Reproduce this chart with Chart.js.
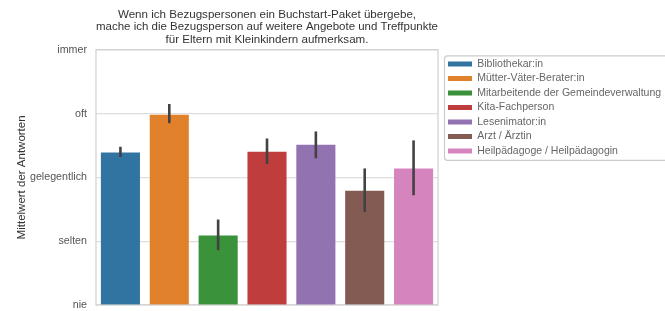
<!DOCTYPE html>
<html>
<head>
<meta charset="utf-8">
<script src="https://cdn.jsdelivr.net/npm/chart.js@4/dist/chart.umd.min.js"></script>
<style>
  body { margin: 0; background: #fff; }
  #wrap { width: 665px; height: 311px; }
</style>
</head>
<body>
<div id="wrap"><canvas id="chart" width="665" height="311"></canvas></div>
<script>
var kategorien = ['Bibliothekar:in', 'Mütter-Väter-Berater:in', 'Mitarbeitende der Gemeindeverwaltung',
    'Kita-Fachperson', 'Lesenimator:in', 'Arzt / Ärztin', 'Heilpädagoge / Heilpädagogin'];
var mittelwerte = [3.39, 3.98, 2.09, 3.40, 3.51, 2.79, 3.14];
var fehlerUnten = [3.32, 3.85, 1.86, 3.21, 3.30, 2.46, 2.72];
var fehlerOben = [3.48, 4.15, 2.34, 3.61, 3.72, 3.14, 3.58];
var antwortLabels = ['nie', 'selten', 'gelegentlich', 'oft', 'immer'];
var farben = ['#3274a1', '#e1812c', '#3a923a', '#c03d3e', '#9372b2', '#845b53', '#d684bd'];

var schrift = "'Liberation Sans', Arial, sans-serif";

// fehlerbalken ueber die skalen zeichnen
var fehlerPlugin = {
    id: 'fehler',
    afterDatasetsDraw: function (chart) {
        var ctx = chart.ctx;
        var xs = chart.scales.x, ys = chart.scales.y;
        ctx.save();
        ctx.strokeStyle = '#424242';
        ctx.lineWidth = 2.6;
        for (var i = 0; i < kategorien.length; i++) {
            var x = xs.getPixelForValue(i);
            ctx.beginPath();
            ctx.moveTo(x, ys.getPixelForValue(fehlerUnten[i]));
            ctx.lineTo(x, ys.getPixelForValue(fehlerOben[i]));
            ctx.stroke();
        }
        ctx.restore();
    }
};

// rahmen um plot und legende
var rahmenPlugin = {
    id: 'rahmen',
    afterDraw: function (chart) {
        var ctx = chart.ctx;
        var a = chart.chartArea;
        ctx.save();
        ctx.strokeStyle = '#d0d0d0';
        ctx.lineWidth = 1.2;
        ctx.strokeRect(a.left, a.top, a.right - a.left, a.bottom - a.top);
        var lg = chart.legend;
        var boxes = lg.legendHitBoxes;
        if (boxes && boxes.length) {
            var top = boxes[0].top - 3;
            var last = boxes[boxes.length - 1];
            var bottom = last.top + last.height + 4;
            ctx.strokeStyle = '#cccccc';
            ctx.beginPath();
            ctx.roundRect(lg.left + 0.5, top, 240, bottom - top, 3);
            ctx.stroke();
        }
        ctx.restore();
    }
};

var chart = new Chart(document.getElementById('chart'), {
    type: 'bar',
    data: {
        labels: kategorien,
        datasets: [{
            label: 'Mittelwert',
            data: mittelwerte,
            backgroundColor: farben,
            borderWidth: 0,
            barPercentage: 0.8,
            categoryPercentage: 1.0
        }]
    },
    options: {
        responsive: false,
        animation: false,
        layout: { padding: { left: 0, right: 0, top: 0, bottom: 6 } },
        plugins: {
            title: {
                display: true,
                fullSize: false,
                text: ['Wenn ich Bezugspersonen ein Buchstart-Paket übergebe,',
                       'mache ich die Bezugsperson auf weitere Angebote und Treffpunkte',
                       'für Eltern mit Kleinkindern aufmerksam.'],
                color: '#333',
                font: { family: schrift, size: 11.6, weight: 'normal', lineHeight: 1.1 },
                padding: { top: 8, bottom: 3.5 }
            },
            legend: {
                position: 'right',
                align: 'start',
                fullSize: false,
                maxWidth: 221,
                title: { display: true, text: ' ', font: { size: 1, lineHeight: 1 }, padding: { top: 4, bottom: 0 } },
                labels: {
                    boxWidth: 24,
                    boxHeight: 5,
                    padding: 4,
                    color: '#333',
                    font: { family: schrift, size: 10.5 },
                    generateLabels: function () {
                        return kategorien.map(function (k, i) {
                            return { text: k, fillStyle: farben[i], strokeStyle: farben[i], lineWidth: 0, hidden: false, index: i };
                        });
                    }
                },
                onClick: function () {}
            },
            tooltip: { enabled: false }
        },
        scales: {
            x: { display: false },
            y: {
                min: 1,
                max: 5,
                afterFit: function (s) {
                    s.width = 96;
                    s.paddingTop = 0;
                    s.paddingBottom = 0;
                },
                ticks: {
                    stepSize: 1,
                    padding: 9,
                    color: '#555',
                    font: { family: schrift, size: 10.7 },
                    callback: function (v) { return antwortLabels[v - 1]; }
                },
                grid: { color: '#dedede', lineWidth: 1.2, drawTicks: false },
                border: { display: false },
                title: {
                    display: true,
                    text: 'Mittelwert der Antworten',
                    color: '#333',
                    font: { family: schrift, size: 11.5 },
                    padding: { top: 15, bottom: 0 }
                }
            },
            luecke: {
                type: 'linear',
                position: 'right',
                display: true,
                afterFit: function (s) { s.width = 6; },
                ticks: { display: false },
                grid: { display: false },
                border: { display: false }
            }
        }
    },
    plugins: [fehlerPlugin, rahmenPlugin]
});
</script>
</body>
</html>
